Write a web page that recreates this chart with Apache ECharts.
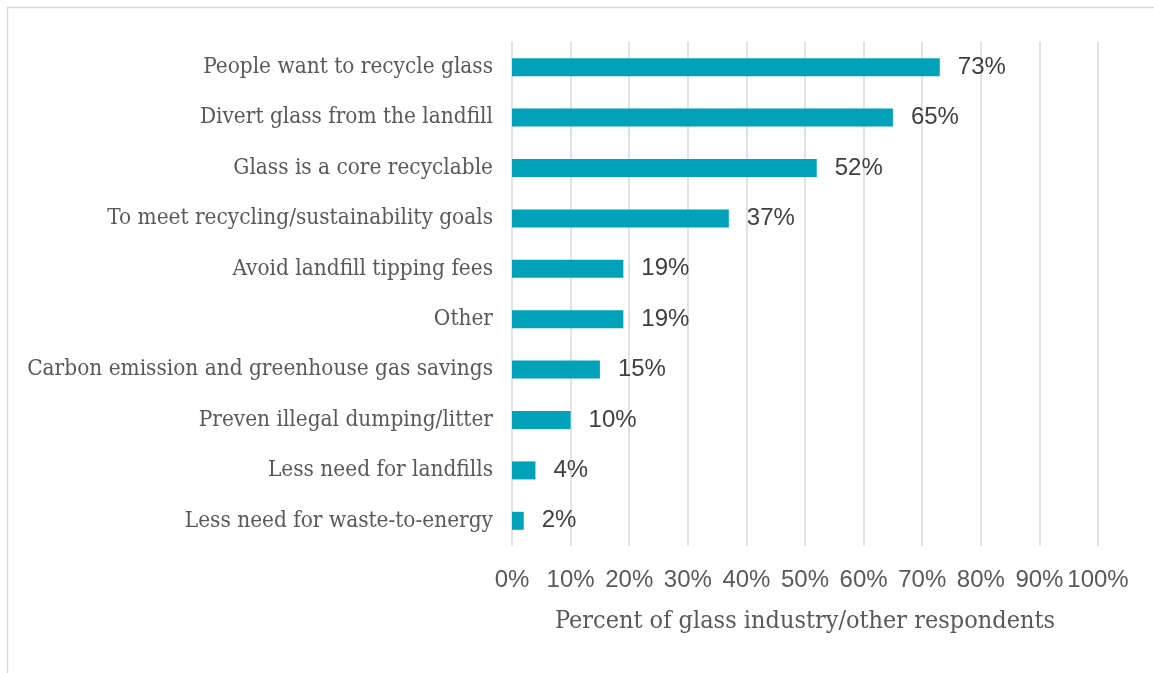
<!DOCTYPE html>
<html>
<head>
<meta charset="utf-8">
<title>Reasons for recycling glass</title>
<script src="https://cdn.jsdelivr.net/npm/echarts@6/dist/echarts.min.js"></script>
<style>
  html, body { margin: 0; padding: 0; background: #ffffff; }
  #chart { width: 1154px; height: 673px; }
</style>
</head>
<body>
<div id="chart"></div>
<script>
// Reasons given, top to bottom
const categories = [
  'People want to recycle glass',
  'Divert glass from the landfill',
  'Glass is a core recyclable',
  'To meet recycling/sustainability goals',
  'Avoid landfill tipping fees',
  'Other',
  'Carbon emission and greenhouse gas savings',
  'Preven illegal dumping/litter',
  'Less need for landfills',
  'Less need for waste-to-energy'
];
// Share of respondents (%)
const shares = [73, 65, 52, 37, 19, 19, 15, 10, 4, 2];
const axisTitle = 'Percent of glass industry/other respondents';

const serif = '"DejaVu Serif Condensed", "DejaVu Serif", serif';
const sans = '"Liberation Sans", Arial, sans-serif';

const chart = echarts.init(document.getElementById('chart'), null, { renderer: 'canvas' });
chart.setOption({
  backgroundColor: '#ffffff',
  animation: false,
  graphic: [{
    type: 'rect',
    shape: { x: 7.5, y: 7.5, width: 1170, height: 700 },
    style: { fill: 'none', stroke: '#d9d9d9', lineWidth: 1.5 },
    silent: true
  }],
  grid: { left: 512, right: 56, top: 42, bottom: 127, containLabel: false },
  xAxis: {
    type: 'value',
    min: 0,
    max: 100,
    interval: 10,
    name: axisTitle,
    nameLocation: 'middle',
    nameGap: 63,
    nameTextStyle: { fontFamily: serif, fontSize: 25, color: '#595959' },
    axisLine: { show: false },
    axisTick: { show: false },
    axisLabel: {
      formatter: '{value}%',
      fontFamily: sans,
      fontSize: 24,
      color: '#595959',
      margin: 22
    },
    splitLine: { show: true, lineStyle: { color: '#d9d9d9', width: 1.5 } }
  },
  yAxis: {
    type: 'category',
    data: categories,
    inverse: true,
    axisLine: { show: false },
    axisTick: { show: false },
    axisLabel: {
      fontFamily: serif,
      fontSize: 22.4,
      color: '#595959',
      margin: 19
    }
  },
  series: [{
    type: 'bar',
    data: shares,
    barWidth: 18,
    itemStyle: { color: '#00a2b9' },
    label: {
      show: true,
      position: 'right',
      distance: 18,
      formatter: '{c}%',
      fontFamily: sans,
      fontSize: 24,
      color: '#404040'
    }
  }]
});
</script>
</body>
</html>
